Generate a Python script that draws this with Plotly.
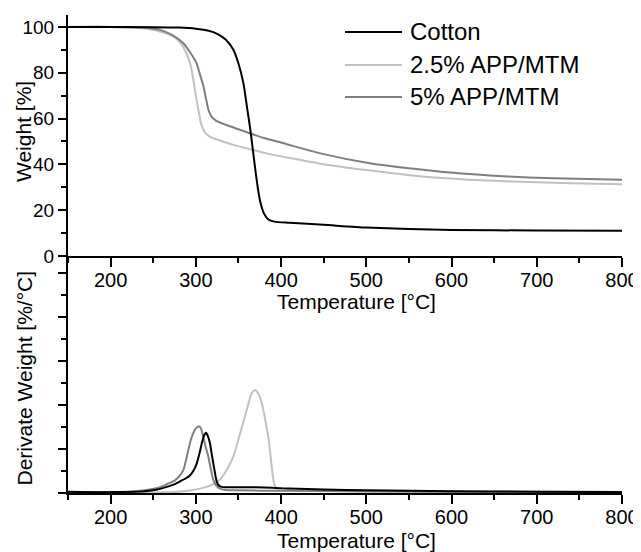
import plotly.graph_objects as go

# ---------------- data ----------------
series_names = ["Cotton", "2.5% APP/MTM", "5% APP/MTM"]
series_colors = ["#000000", "#c0c0c0", "#7f7f7f"]

# TGA: weight [%]
tga_cotton_x = [150, 200, 250, 280, 300, 315, 325, 335, 344, 350, 356, 360, 364, 367, 370, 373, 376, 380, 385, 392, 410, 450, 500, 550, 600, 700, 800]
tga_cotton_y = [100, 100, 99.9, 99.7, 99.2, 98.3, 97, 94.5, 90, 84, 75, 65, 55, 46, 37, 29, 23, 18.5, 16, 15, 14.5, 13.6, 12.4, 11.8, 11.4, 11.1, 11.0]

tga_25_x = [150, 200, 230, 246, 260, 274, 282, 289, 294, 297, 300, 303, 306, 309, 313, 318, 330, 344, 365, 383, 410, 446, 500, 563, 620, 680, 740, 800]
tga_25_y = [100, 100, 99.6, 99, 97.8, 95.8, 93, 88.5, 83, 77, 70, 63.8, 58, 55, 53, 51.8, 50.2, 48.5, 46.5, 44.8, 42.8, 40.3, 37.5, 34.8, 33.3, 32.4, 31.8, 31.3]

tga_5_x = [150, 200, 240, 258, 272, 285, 294, 301, 305, 309, 312, 315, 319, 324, 335, 350, 363, 380, 403, 446, 504, 550, 602, 660, 720, 800]
tga_5_y = [100, 100, 99.6, 98.7, 96.5, 93, 88.5, 84, 79, 74, 68.5, 63.5, 60.5, 59, 57.3, 55.3, 53.6, 51.5, 49.2, 44.8, 40.5, 38.3, 36.3, 34.8, 33.9, 33.3]

# DTG: derivative weight (arbitrary units, no tick labels)
dtg_cotton_x = [150, 200, 240, 255, 266, 274, 281, 288, 293, 297, 301, 304, 307, 309.5, 312, 314, 316.6, 318.5, 320.5, 322.5, 324.5, 327, 330, 335, 344, 370, 390, 410, 450, 500, 600, 700, 800]
dtg_cotton_y = [0.03, 0.02, 0.04, 0.08, 0.14, 0.19, 0.26, 0.33, 0.4, 0.5, 0.67, 0.88, 1.13, 1.3, 1.37, 1.3, 1.13, 0.9, 0.67, 0.45, 0.26, 0.17, 0.14, 0.13, 0.13, 0.13, 0.12, 0.1, 0.08, 0.06, 0.04, 0.03, 0.02]

dtg_25_x = [150, 250, 275, 290, 305, 318, 328, 336, 344, 352, 359.7, 365.5, 369.4, 372, 375, 379.2, 382, 385, 387, 389, 391.7, 394, 398, 420, 500, 600, 800]
dtg_25_y = [0.01, 0.01, 0.02, 0.05, 0.1, 0.18, 0.3, 0.52, 0.83, 1.36, 1.89, 2.27, 2.34, 2.3, 2.19, 1.89, 1.6, 1.28, 0.95, 0.6, 0.22, 0.12, 0.07, 0.05, 0.03, 0.02, 0.01]

dtg_5_x = [150, 200, 230, 246, 256, 266, 275, 280, 285.3, 288.5, 291.2, 294, 297, 300, 303.7, 306, 308.7, 311.5, 314.6, 317.5, 320.5, 324, 328.4, 335, 345, 400, 500, 600, 800]
dtg_5_y = [0.02, 0.02, 0.04, 0.08, 0.12, 0.2, 0.28, 0.37, 0.52, 0.75, 0.98, 1.2, 1.36, 1.47, 1.52, 1.47, 1.28, 1.05, 0.83, 0.55, 0.3, 0.17, 0.1, 0.07, 0.06, 0.05, 0.04, 0.03, 0.02]

x_ticks = [200, 300, 400, 500, 600, 700, 800]
w_ticks = [0, 20, 40, 60, 80, 100]

# ---------------- figure ----------------
OFF = 8                      # page body margin in the browser
W, H = 641 - OFF, 552 - OFF
FONT = "Liberation Sans, Arial, sans-serif"

def px_x(p):
    return (p - OFF) / W

def px_y(p):
    return 1 - (p - OFF) / H

fig = go.Figure()

tga = [(tga_cotton_x, tga_cotton_y), (tga_25_x, tga_25_y), (tga_5_x, tga_5_y)]
dtg = [(dtg_cotton_x, dtg_cotton_y), (dtg_25_x, dtg_25_y), (dtg_5_x, dtg_5_y)]

order = [1, 2, 0]
for i in order:
    fig.add_trace(go.Scatter(x=tga[i][0], y=tga[i][1], mode="lines", name=series_names[i],
                             line=dict(color=series_colors[i], width=2, shape="spline", smoothing=0.6),
                             xaxis="x", yaxis="y", showlegend=False))
for i in order:
    fig.add_trace(go.Scatter(x=dtg[i][0], y=dtg[i][1], mode="lines", name=series_names[i],
                             line=dict(color=series_colors[i], width=2, shape="spline", smoothing=0.6),
                             xaxis="x2", yaxis="y2", showlegend=False))

xdom = [px_x(68), px_x(622)]
common_x = dict(range=[150, 800], tickmode="array", tickvals=x_ticks, ticks="outside", ticklen=9,
                tickwidth=1.5, tickcolor="black", showline=True, linecolor="black", linewidth=2,
                showgrid=False, zeroline=False, automargin=False, ticklabelstandoff=-4,
                tickfont=dict(family=FONT, size=20, color="black"),
                minor=dict(dtick=50, tick0=150, ticks="outside", ticklen=5, tickwidth=1.5, tickcolor="black", showgrid=False))

fig.update_layout(
    width=W, height=H, template="none",
    margin=dict(l=0, r=0, t=0, b=0),
    paper_bgcolor="white", plot_bgcolor="rgba(0,0,0,0)",
    showlegend=False,
    xaxis=dict(domain=xdom, anchor="y", **common_x),
    yaxis=dict(domain=[px_y(256), px_y(15)], range=[0, 105.2], anchor="x",
               tickmode="array", tickvals=w_ticks, ticks="outside", ticklen=8, tickwidth=1.5, tickcolor="black",
               showline=True, linecolor="black", linewidth=2, showgrid=False, zeroline=False, automargin=False,
               tickfont=dict(family=FONT, size=19, color="black"),
               minor=dict(dtick=10, tick0=0, ticks="outside", ticklen=5, tickwidth=1.5, tickcolor="black", showgrid=False)),
    xaxis2=dict(domain=xdom, anchor="y2", **common_x),
    yaxis2=dict(domain=[px_y(493), px_y(256)], range=[0, 5.39], anchor="x2",
                dtick=1, tick0=0, ticks="outside", ticklen=8, tickwidth=1.5, tickcolor="black",
                showticklabels=False,
                showline=True, linecolor="black", linewidth=2, showgrid=False, zeroline=False, automargin=False,
                minor=dict(dtick=0.5, tick0=0, ticks="outside", ticklen=5, tickwidth=1.5, tickcolor="black", showgrid=False)),
)

# axis titles
for ypix in (301, 540):
    fig.add_annotation(text="Temperature [°C]", x=px_x(356), y=px_y(ypix), xref="paper", yref="paper",
                       showarrow=False, xanchor="center", yanchor="middle",
                       font=dict(family=FONT, size=21, color="black"))
fig.add_annotation(text="Weight [%]", x=px_x(24), y=px_y(132), xref="paper", yref="paper",
                   showarrow=False, xanchor="center", yanchor="middle", textangle=-90,
                   font=dict(family=FONT, size=21, color="black"))
fig.add_annotation(text="Derivate Weight [%/°C]", x=px_x(23.5), y=px_y(378), xref="paper", yref="paper",
                   showarrow=False, xanchor="center", yanchor="middle", textangle=-90,
                   font=dict(family=FONT, size=21, color="black"))

# legend (manual: long line samples)
legend_rows = [32, 65, 97]
for name, color, ypix in zip(series_names, series_colors, legend_rows):
    fig.add_shape(type="line", xref="paper", yref="paper", x0=px_x(345), x1=px_x(402),
                  y0=px_y(ypix), y1=px_y(ypix), line=dict(color=color, width=2))
    fig.add_annotation(text=name, x=px_x(408), y=px_y(ypix), xref="paper", yref="paper",
                       showarrow=False, xanchor="left", yanchor="middle",
                       font=dict(family=FONT, size=24, color="black"))

fig.write_html("out.html")
